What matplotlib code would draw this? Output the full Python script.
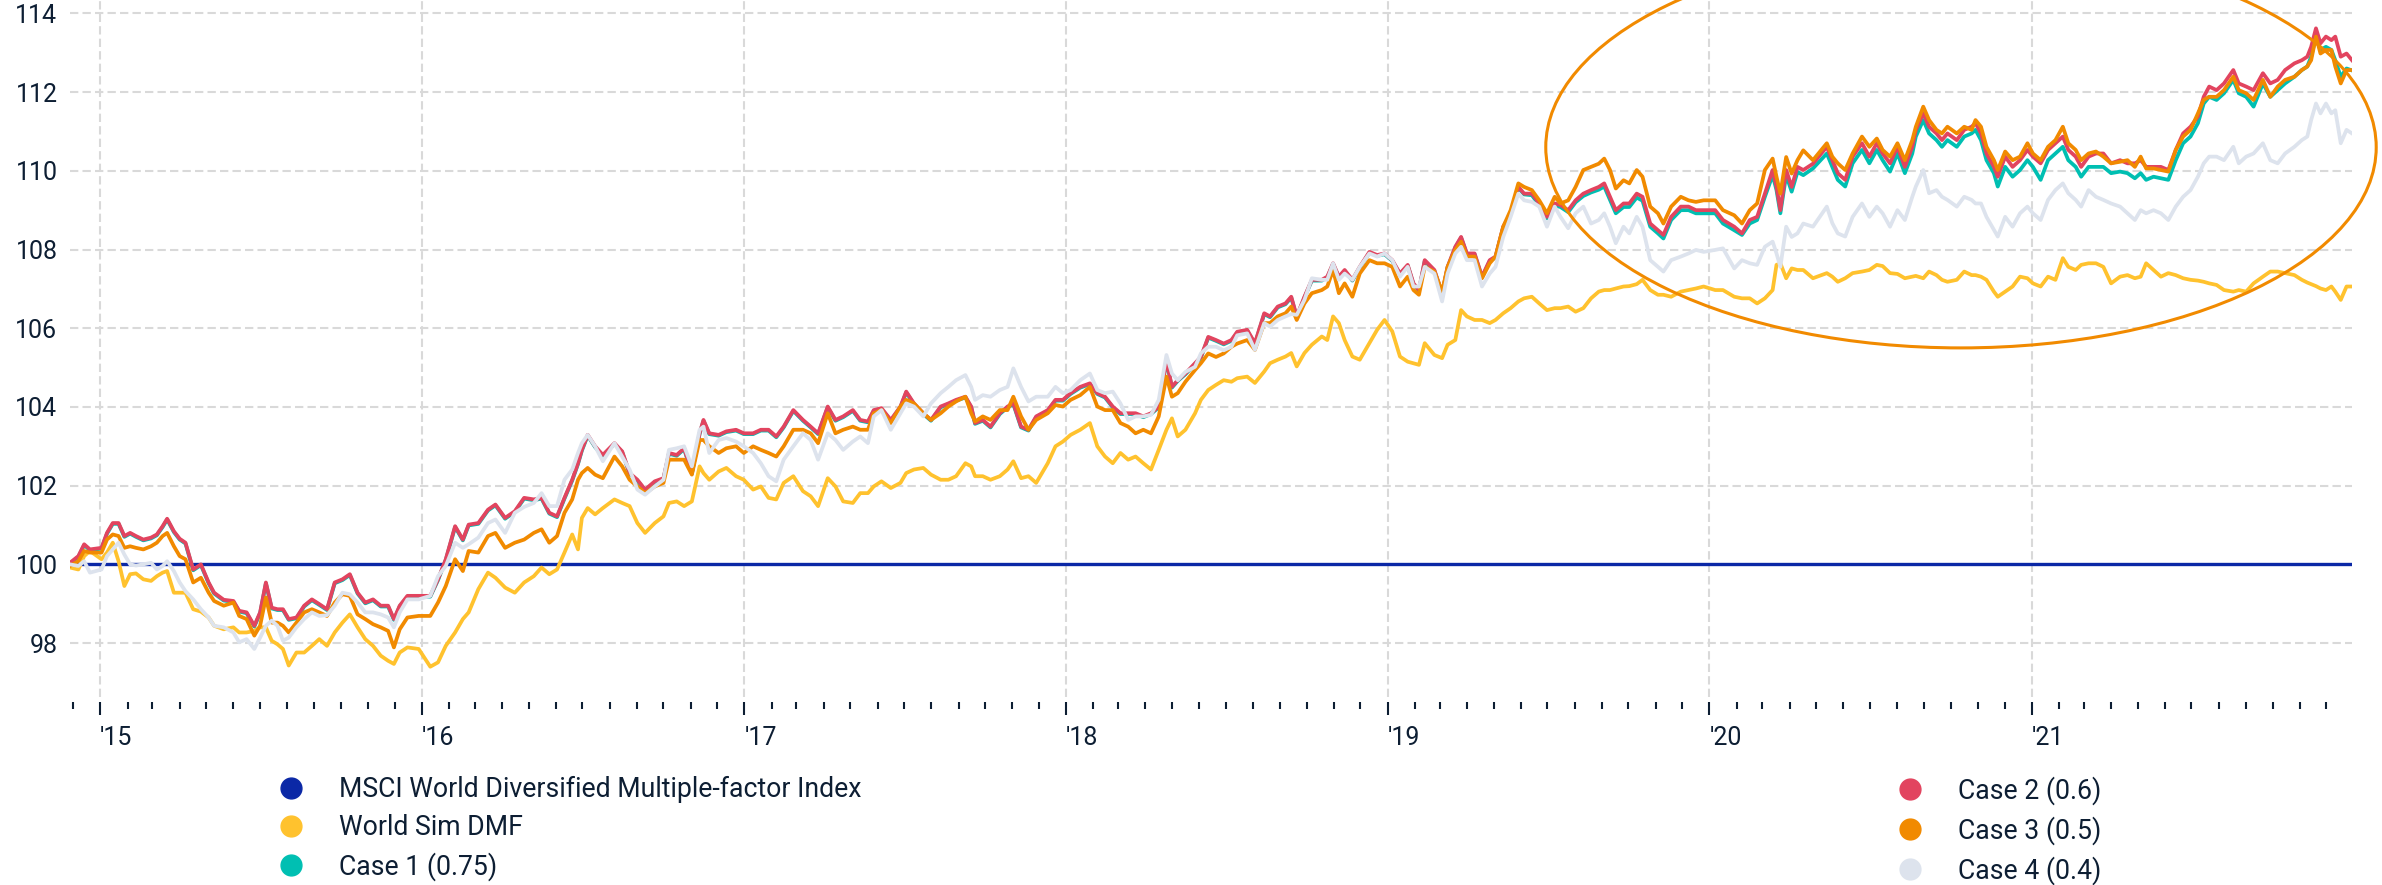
import numpy as np
import pandas as pd
import matplotlib
matplotlib.use("Agg")
import matplotlib.pyplot as plt
import matplotlib.dates as mdates
from matplotlib.patches import Ellipse
from matplotlib.lines import Line2D

plt.rcParams['font.family'] = ['Roboto', 'DejaVu Sans']

# ---------------- data (decimal years, index levels) ----------------
t_a = [2014.906,2014.932,2014.950,2014.968,2015.004,2015.021,2015.039,2015.057,2015.075,2015.093,
       2015.111,2015.134,2015.158,2015.176,2015.194,2015.208,2015.229,2015.247,2015.265,2015.289,
       2015.313,2015.337,2015.354,2015.384,2015.414,2015.432,2015.455,2015.479,2015.497,2015.515,
       2015.533,2015.551,2015.568,2015.586,2015.610,2015.634,2015.658,2015.681,2015.705,2015.729,
       2015.753,2015.776,2015.800,2015.824,2015.848,2015.872,2015.895,2015.913,2015.931,2015.955,
       2015.990,2016.026,2016.050,2016.074,2016.103,2016.127,2016.145,2016.175,2016.205,2016.228,
       2016.258,2016.288,2016.317,2016.347,2016.371,2016.395,2016.419,2016.442,2016.466,2016.484,
       2016.496,2016.514,2016.537,2016.561,2016.597,2016.621,2016.644,2016.668,2016.692,2016.722,
       2016.749]
t_b = [2016.766,2016.790,2016.813,2016.837,2016.861,2016.873,2016.891,2016.920,2016.944,2016.974,
       2016.998,2017.027,2017.051,2017.075,2017.099,2017.122,2017.152,2017.182,2017.206,2017.229,
       2017.259,2017.283,2017.307,2017.337,2017.360,2017.384,2017.402,2017.426,2017.455,2017.485,
       2017.503,2017.527,2017.556,2017.580,2017.610,2017.634,2017.658,2017.687,2017.705,2017.717,
       2017.741,2017.765,2017.794,2017.818,2017.836,2017.860,2017.883,2017.907,2017.943,2017.967,
       2017.990,2018.014,2018.044,2018.074,2018.097,2018.121,2018.145,2018.169,2018.193,2018.216,
       2018.240,2018.264,2018.288,2018.312,2018.329,2018.347,2018.371,2018.401,2018.419,2018.442,
       2018.466,2018.490,2018.514,2018.532]
t_c = [2018.563,2018.587,2018.616,2018.634,2018.658,2018.682,2018.700,2018.717,2018.741,2018.764,
       2018.795,2018.812,2018.830,2018.848,2018.866,2018.890,2018.913,2018.943,2018.967,2018.990,
       2019.014,2019.038,2019.062,2019.080,2019.097,2019.115,2019.145,2019.169,2019.186,2019.210,
       2019.228,2019.246,2019.270,2019.293,2019.317,2019.335,2019.359,2019.382,2019.406,2019.424,
       2019.448,2019.471,2019.495,2019.519,2019.537,2019.561,2019.584,2019.608,2019.632,2019.656,
       2019.673,2019.691,2019.709,2019.733,2019.751,2019.774,2019.792,2019.816,2019.840,2019.857,
       2019.881,2019.911,2019.935,2019.958,2019.982,2020.018,2020.042,2020.077,2020.101,2020.125,
       2020.148,2020.172,2020.196,2020.208,2020.220,2020.238,2020.255,2020.273,2020.291,2020.321]
t_d = [2020.364,2020.381,2020.398,2020.421,2020.444,2020.473,2020.496,2020.519,2020.537,2020.560,
       2020.583,2020.606,2020.629,2020.640,2020.663,2020.681,2020.704,2020.721,2020.738,2020.767,
       2020.790,2020.813,2020.825,2020.842,2020.859,2020.882,2020.894,2020.917,2020.940,2020.963,
       2020.986,2021.003,2021.027,2021.050,2021.073,2021.096,2021.113,2021.136,2021.153,2021.176,
       2021.199,2021.222,2021.246,2021.274,2021.297,2021.320,2021.338,2021.355,2021.378,2021.401,
       2021.424,2021.447,2021.470,2021.493,2021.516,2021.534,2021.551,2021.574,2021.597,2021.626,
       2021.643,2021.666,2021.689,2021.718,2021.741,2021.764,2021.787,2021.816,2021.839,2021.856,
       2021.868,2021.883,2021.897,2021.914,2021.931,2021.943,2021.960,2021.978,2021.995]

# World Sim DMF
sim_a = [99.92,99.87,100.21,100.34,100.13,100.30,100.55,100.08,99.45,99.75,
         99.77,99.62,99.58,99.70,99.79,99.83,99.28,99.28,99.28,98.86,
         98.80,98.65,98.44,98.35,98.40,98.27,98.27,98.31,98.40,98.40,
         98.06,97.97,97.85,97.43,97.76,97.76,97.93,98.10,97.93,98.27,
         98.52,98.73,98.40,98.10,97.93,97.68,97.55,97.47,97.76,97.89,
         97.85,97.40,97.51,97.93,98.27,98.61,98.78,99.37,99.79,99.66,
         99.41,99.28,99.54,99.70,99.92,99.75,99.87,100.30,100.76,100.38,
         101.18,101.43,101.27,101.43,101.65,101.56,101.48,101.05,100.80,101.05,
         101.22]
sim_b = [101.56,101.60,101.48,101.60,102.49,102.32,102.15,102.36,102.45,102.24,
         102.15,101.90,101.98,101.69,101.65,102.07,102.24,101.86,101.73,101.48,
         102.19,101.98,101.60,101.56,101.81,101.81,101.98,102.11,101.94,102.07,
         102.32,102.41,102.45,102.28,102.15,102.15,102.24,102.57,102.49,102.24,
         102.24,102.15,102.24,102.41,102.62,102.19,102.24,102.07,102.57,103.00,
         103.12,103.29,103.42,103.59,103.00,102.74,102.57,102.83,102.66,102.74,
         102.57,102.41,102.91,103.42,103.71,103.25,103.42,103.84,104.18,104.43,
         104.56,104.68,104.64,104.73]
sim_c = [104.77,104.61,104.90,105.11,105.20,105.28,105.37,105.03,105.37,105.58,
         105.79,105.70,106.30,106.13,105.70,105.28,105.20,105.62,105.96,106.21,
         105.92,105.28,105.15,105.11,105.07,105.62,105.32,105.24,105.58,105.70,
         106.46,106.30,106.21,106.21,106.13,106.21,106.38,106.51,106.68,106.76,
         106.80,106.63,106.46,106.51,106.51,106.55,106.42,106.51,106.76,106.93,
         106.97,106.97,107.01,107.06,107.07,107.12,107.23,106.97,106.85,106.85,
         106.80,106.93,106.97,107.01,107.06,106.97,106.97,106.80,106.76,106.76,
         106.63,106.76,106.97,107.61,107.65,107.27,107.52,107.48,107.48,107.27]
sim_d = [107.40,107.31,107.18,107.27,107.40,107.44,107.48,107.61,107.58,107.40,
         107.38,107.27,107.31,107.33,107.27,107.44,107.35,107.23,107.18,107.23,
         107.44,107.35,107.35,107.31,107.23,106.93,106.80,106.93,107.06,107.31,
         107.27,107.14,107.06,107.31,107.23,107.78,107.56,107.48,107.61,107.65,
         107.65,107.56,107.14,107.31,107.35,107.27,107.31,107.65,107.48,107.31,
         107.40,107.35,107.27,107.23,107.21,107.18,107.14,107.10,106.97,106.93,
         106.97,106.93,107.14,107.31,107.44,107.44,107.40,107.35,107.23,107.16,
         107.12,107.07,107.01,106.97,107.06,106.93,106.72,107.06,107.06]

# Case 1 (0.75)
case1_a = [100.02,100.19,100.49,100.36,100.40,100.78,101.03,101.03,100.70,100.78,
           100.70,100.61,100.66,100.74,100.95,101.14,100.82,100.63,100.53,99.85,
           99.98,99.52,99.26,99.08,99.05,98.80,98.76,98.42,98.76,99.52,
           98.88,98.84,98.84,98.59,98.63,98.93,99.09,98.97,98.84,99.52,
           99.60,99.73,99.26,99.01,99.09,98.93,98.93,98.59,98.93,99.18,
           99.18,99.18,99.60,100.11,100.95,100.61,100.99,101.03,101.37,101.50,
           101.16,101.33,101.67,101.63,101.67,101.29,101.20,101.67,102.13,102.55,
           102.89,103.27,102.98,102.76,103.06,102.85,102.30,102.13,101.88,102.09,
           102.17]
case1_b = [102.81,102.76,102.93,102.30,103.31,103.65,103.31,103.27,103.36,103.40,
           103.31,103.31,103.40,103.40,103.23,103.48,103.90,103.65,103.48,103.31,
           103.99,103.65,103.74,103.90,103.65,103.61,103.90,103.95,103.65,103.99,
           104.37,104.07,103.82,103.65,103.99,104.07,104.16,104.24,103.99,103.57,
           103.65,103.48,103.82,103.99,104.07,103.48,103.40,103.74,103.90,104.16,
           104.16,104.33,104.49,104.58,104.33,104.24,103.99,103.82,103.82,103.82,
           103.74,103.82,103.99,105.17,104.49,104.66,104.83,105.09,105.25,105.76,
           105.68,105.59,105.68,105.89]
case1_c = [105.94,105.60,106.36,106.28,106.53,106.61,106.78,106.28,106.78,107.21,
           107.21,107.29,107.63,107.29,107.46,107.21,107.54,107.92,107.84,107.88,
           107.71,107.37,107.59,107.12,106.95,107.71,107.46,106.87,107.54,108.05,
           108.30,107.88,107.88,107.29,107.71,107.80,108.56,108.90,109.57,109.40,
           109.38,109.13,108.79,109.12,109.08,108.95,109.20,109.36,109.45,109.52,
           109.60,109.26,108.92,109.08,109.08,109.32,109.24,108.58,108.41,108.28,
           108.75,109.00,109.00,108.92,108.92,108.92,108.66,108.49,108.37,108.66,
           108.75,109.34,109.89,109.51,108.92,109.89,109.47,109.97,109.89,110.06]
case1_d = [110.44,110.10,109.77,109.60,110.19,110.53,110.19,110.53,110.27,109.98,
           110.44,109.94,110.44,110.87,111.29,110.95,110.78,110.61,110.78,110.61,
           110.87,110.95,111.04,110.78,110.27,109.94,109.60,110.10,109.85,110.02,
           110.27,110.10,109.77,110.27,110.44,110.61,110.27,110.10,109.85,110.10,
           110.10,110.10,109.94,109.98,109.94,109.81,109.94,109.77,109.85,109.81,
           109.77,110.27,110.70,110.87,111.21,111.71,111.88,111.80,111.97,112.31,
           111.97,111.88,111.63,112.22,111.88,112.05,112.22,112.39,112.56,112.65,
           112.90,113.41,113.07,113.15,113.07,112.81,112.39,112.60,112.55]

# Case 2 (0.6)
case2_a = [100.04,100.21,100.51,100.38,100.42,100.80,101.05,101.05,100.72,100.80,
           100.72,100.63,100.68,100.76,100.97,101.16,100.84,100.65,100.55,99.87,
           100.00,99.54,99.28,99.10,99.07,98.82,98.78,98.44,98.78,99.54,
           98.90,98.86,98.86,98.61,98.65,98.95,99.11,98.99,98.86,99.54,
           99.62,99.75,99.28,99.03,99.11,98.95,98.95,98.61,98.95,99.20,
           99.20,99.20,99.62,100.13,100.97,100.63,101.01,101.05,101.39,101.52,
           101.18,101.35,101.69,101.65,101.69,101.31,101.22,101.69,102.15,102.57,
           102.91,103.29,103.00,102.78,103.08,102.87,102.32,102.15,101.90,102.11,
           102.19]
case2_b = [102.83,102.78,102.95,102.32,103.33,103.67,103.33,103.29,103.38,103.42,
           103.33,103.33,103.42,103.42,103.25,103.50,103.92,103.67,103.50,103.33,
           104.01,103.67,103.76,103.92,103.67,103.63,103.92,103.97,103.67,104.01,
           104.39,104.09,103.84,103.67,104.01,104.09,104.18,104.26,104.01,103.59,
           103.67,103.50,103.84,104.01,104.09,103.50,103.42,103.76,103.92,104.18,
           104.18,104.35,104.51,104.60,104.35,104.26,104.01,103.84,103.84,103.84,
           103.76,103.84,104.01,105.19,104.51,104.68,104.85,105.11,105.27,105.78,
           105.70,105.61,105.70,105.91]
case2_c = [105.96,105.62,106.38,106.30,106.55,106.63,106.80,106.30,106.80,107.23,
           107.23,107.31,107.65,107.31,107.48,107.23,107.56,107.94,107.86,107.90,
           107.73,107.39,107.61,107.14,106.97,107.73,107.48,106.89,107.56,108.07,
           108.32,107.90,107.90,107.31,107.73,107.82,108.58,108.92,109.59,109.42,
           109.42,109.17,108.83,109.17,109.13,109.00,109.25,109.42,109.51,109.59,
           109.68,109.34,109.00,109.17,109.17,109.42,109.34,108.66,108.49,108.37,
           108.83,109.09,109.09,109.00,109.00,109.00,108.75,108.58,108.41,108.75,
           108.83,109.42,110.02,109.59,109.00,110.02,109.59,110.10,110.02,110.18]
case2_d = [110.61,110.27,109.94,109.77,110.36,110.70,110.36,110.70,110.44,110.19,
           110.61,110.10,110.61,111.04,111.46,111.12,110.95,110.78,110.95,110.78,
           111.04,111.12,111.21,110.95,110.44,110.10,109.85,110.36,110.10,110.27,
           110.53,110.36,110.19,110.53,110.70,110.87,110.53,110.36,110.10,110.36,
           110.44,110.44,110.19,110.27,110.19,110.19,110.27,110.10,110.10,110.10,
           110.02,110.53,110.95,111.12,111.38,111.88,112.14,112.05,112.22,112.56,
           112.22,112.14,112.05,112.48,112.22,112.31,112.56,112.73,112.81,112.90,
           113.15,113.62,113.24,113.41,113.32,113.41,112.90,112.98,112.81]

# Case 3 (0.5)
case3_a = [99.96,100.08,100.34,100.30,100.30,100.63,100.76,100.72,100.42,100.46,
           100.42,100.38,100.46,100.55,100.72,100.80,100.46,100.21,100.13,99.54,
           99.66,99.28,99.07,98.95,99.03,98.69,98.61,98.19,98.44,99.16,
           98.52,98.52,98.44,98.27,98.52,98.78,98.86,98.78,98.69,99.03,
           99.24,99.20,98.73,98.61,98.48,98.40,98.31,97.89,98.35,98.65,
           98.69,98.69,99.03,99.45,100.13,99.83,100.34,100.30,100.72,100.80,
           100.42,100.55,100.63,100.80,100.89,100.55,100.72,101.31,101.65,102.15,
           102.32,102.45,102.28,102.19,102.74,102.49,102.15,101.98,101.81,101.98,
           102.07]
case3_b = [102.66,102.66,102.66,102.28,103.16,103.16,103.00,102.83,102.95,103.00,
           102.83,103.00,102.91,102.83,102.74,103.00,103.42,103.42,103.33,103.08,
           103.84,103.33,103.42,103.50,103.42,103.42,103.84,103.92,103.59,104.01,
           104.18,104.09,103.84,103.67,103.84,104.01,104.14,104.26,103.84,103.63,
           103.76,103.67,103.92,103.92,104.26,103.76,103.42,103.67,103.84,104.05,
           104.01,104.18,104.30,104.51,104.01,103.92,103.92,103.59,103.50,103.33,
           103.42,103.33,103.76,104.77,104.26,104.35,104.64,104.94,105.11,105.36,
           105.27,105.36,105.53,105.61]
case3_c = [105.70,105.45,106.13,106.13,106.30,106.38,106.55,106.21,106.63,106.89,
           106.97,107.06,107.48,106.89,107.14,106.80,107.39,107.73,107.65,107.65,
           107.56,107.06,107.31,106.97,106.85,107.56,107.44,106.93,107.56,107.99,
           108.20,107.82,107.82,107.27,107.65,107.82,108.58,109.00,109.68,109.59,
           109.51,109.25,108.92,109.34,109.17,109.25,109.59,110.02,110.10,110.18,
           110.31,110.02,109.55,109.76,109.68,110.02,109.85,109.09,108.92,108.66,
           109.09,109.34,109.25,109.21,109.25,109.25,109.00,108.87,108.66,109.00,
           109.17,110.02,110.31,109.85,109.42,110.35,109.93,110.27,110.52,110.27]
case3_d = [110.70,110.36,110.19,110.02,110.44,110.87,110.61,110.82,110.53,110.36,
           110.70,110.27,110.78,111.12,111.63,111.29,111.04,110.95,111.12,110.95,
           111.12,111.04,111.29,111.12,110.61,110.27,110.02,110.49,110.27,110.36,
           110.70,110.44,110.27,110.61,110.78,111.12,110.70,110.53,110.27,110.44,
           110.49,110.36,110.19,110.23,110.27,110.10,110.36,110.06,110.06,110.02,
           109.98,110.53,110.87,111.04,111.46,111.80,111.88,111.88,112.05,112.39,
           112.05,111.97,111.80,112.31,111.88,112.14,112.31,112.39,112.56,112.65,
           112.81,113.41,112.98,113.07,113.07,112.65,112.22,112.56,112.56]

# Case 4 (0.4)
case4_a = [100.00,99.96,100.08,99.79,99.87,100.21,100.38,100.55,100.25,100.00,
           99.97,100.00,100.04,99.87,99.96,100.08,99.83,99.54,99.32,99.11,
           98.86,98.65,98.44,98.40,98.27,98.02,98.10,97.85,98.14,98.44,
           98.57,98.44,98.06,98.14,98.40,98.61,98.78,98.69,98.71,98.95,
           99.28,99.24,99.03,98.78,98.78,98.73,98.65,98.40,98.78,99.11,
           99.11,99.20,99.70,99.96,100.55,100.42,100.51,100.68,101.05,101.14,
           100.80,101.31,101.46,101.56,101.81,101.48,101.48,102.15,102.41,102.83,
           103.08,103.29,103.00,102.62,103.08,102.74,102.41,101.90,101.77,101.98,
           102.15]
case4_b = [102.91,102.95,103.00,102.49,103.42,103.50,102.83,103.16,103.21,103.12,
           103.00,102.83,102.57,102.24,102.11,102.66,103.00,103.33,103.16,102.66,
           103.33,103.16,102.91,103.12,103.25,103.08,103.76,103.92,103.42,103.84,
           104.09,104.01,103.76,104.09,104.35,104.51,104.68,104.81,104.51,104.18,
           104.30,104.26,104.43,104.51,104.98,104.51,104.14,104.26,104.26,104.51,
           104.35,104.43,104.68,104.85,104.43,104.35,104.39,104.09,103.67,103.76,
           103.76,103.80,104.18,105.32,104.85,104.68,104.89,105.02,105.36,105.53,
           105.53,105.44,105.53,105.82]
case4_c = [105.87,105.45,106.13,106.04,106.21,106.30,106.36,106.34,106.72,107.27,
           107.23,107.23,107.65,107.23,107.39,107.23,107.56,107.90,107.82,107.90,
           107.73,107.31,107.56,107.06,107.06,107.56,107.39,106.68,107.39,107.90,
           108.07,107.73,107.73,107.06,107.39,107.56,108.32,108.83,109.42,109.25,
           109.21,109.09,108.58,109.09,108.83,108.54,108.92,109.09,108.66,108.75,
           108.92,108.58,108.16,108.58,108.41,108.83,108.58,107.73,107.56,107.44,
           107.73,107.82,107.90,107.99,107.94,107.99,108.03,107.52,107.73,107.65,
           107.61,108.07,108.20,107.90,107.56,108.58,108.32,108.41,108.66,108.58]
case4_d = [109.09,108.67,108.41,108.33,108.83,109.17,108.83,109.09,108.92,108.58,
           109.00,108.75,109.34,109.60,110.02,109.43,109.51,109.34,109.26,109.09,
           109.34,109.26,109.17,109.17,108.83,108.50,108.33,108.83,108.58,108.92,
           109.09,108.92,108.75,109.26,109.51,109.68,109.43,109.26,109.09,109.51,
           109.34,109.26,109.17,109.09,108.92,108.75,109.00,108.92,109.00,108.92,
           108.75,109.09,109.34,109.51,109.85,110.19,110.36,110.36,110.27,110.61,
           110.19,110.36,110.44,110.70,110.27,110.19,110.44,110.61,110.78,110.87,
           111.29,111.71,111.46,111.71,111.46,111.54,110.70,111.04,110.95]

# MSCI World Diversified Multiple-factor Index (the base, constant at 100)
msci_t = [2014.906, 2021.995]
msci_v = [100.0, 100.0]

series_names = ["MSCI World Diversified Multiple-factor Index", "World Sim DMF",
                "Case 1 (0.75)", "Case 2 (0.6)", "Case 3 (0.5)", "Case 4 (0.4)"]
series_colors = ["#0b28a6", "#ffc22e", "#00bfb2", "#e2445f", "#f18a00", "#dde3ed"]
y_ticks = [98, 100, 102, 104, 106, 108, 110, 112, 114]
year_ticks = [2015, 2016, 2017, 2018, 2019, 2020, 2021]
year_labels = ["'15", "'16", "'17", "'18", "'19", "'20", "'21"]

# ellipse highlight (center in decimal year / index level, size in years / index points)
ell_center = (2020.78, 110.6)
ell_size = (2.58, 10.2)


def to_date(t):
    y = int(np.floor(t))
    start = pd.Timestamp(y, 1, 1)
    days = (pd.Timestamp(y + 1, 1, 1) - start).days
    return start + pd.Timedelta(days=(t - y) * days)


t_all = t_a + t_b + t_c + t_d
dates = [to_date(t) for t in t_all]
vals = {
    "sim": sim_a + sim_b + sim_c + sim_d,
    "c1": case1_a + case1_b + case1_c + case1_d,
    "c2": case2_a + case2_b + case2_c + case2_d,
    "c3": case3_a + case3_b + case3_c + case3_d,
    "c4": case4_a + case4_b + case4_c + case4_d,
}
for k, v in vals.items():
    assert len(v) == len(dates), (k, len(v), len(dates))

W, H = 2382, 885
fig = plt.figure(figsize=(W / 100, H / 100), dpi=100)
ax = fig.add_axes([70 / W, 1 - 697 / H, (2352 - 70) / W, 697 / H])

lw = 2.7
ax.plot([to_date(t) for t in msci_t], msci_v, color=series_colors[0], lw=2.4, zorder=2,
        solid_capstyle='butt')
ax.plot(dates, vals["sim"], color=series_colors[1], lw=lw, zorder=3, solid_joinstyle='round')
ax.plot(dates, vals["c1"], color=series_colors[2], lw=lw, zorder=4, solid_joinstyle='round')
ax.plot(dates, vals["c2"], color=series_colors[3], lw=lw, zorder=5, solid_joinstyle='round')
ax.plot(dates, vals["c3"], color=series_colors[4], lw=lw, zorder=6, solid_joinstyle='round')
ax.plot(dates, vals["c4"], color=series_colors[5], lw=lw, zorder=7, solid_joinstyle='round')

ax.set_xlim(dates[0], dates[-1])
ax.set_ylim(96.63, 114.34)

# ellipse
cx = mdates.date2num(to_date(ell_center[0]))
ell = Ellipse((cx, ell_center[1]), width=ell_size[0] * 365.25, height=ell_size[1],
              transform=ax.transData, fill=False, edgecolor="#f18a00", lw=2.2,
              clip_on=False, zorder=8)
ax.add_patch(ell)

# axes styling
for s in ax.spines.values():
    s.set_visible(False)
ax.spines['bottom'].set_position(('outward', 3.6))

navy = "#0d1e33"
ax.set_yticks(y_ticks)
ax.set_yticklabels([str(v) for v in y_ticks])
ax.tick_params(axis='y', length=0, pad=9, labelsize=18, labelcolor=navy)

ax.set_xticks([pd.Timestamp(y, 1, 1) for y in year_ticks])
ax.set_xticklabels(year_labels, ha='left')
ax.set_xticks(list(pd.date_range('2014-12-01', '2021-12-01', freq='MS')), minor=True)
ax.tick_params(axis='x', which='major', direction='out', length=9, width=1.5, color=navy,
               pad=8, labelsize=18, labelcolor=navy)
ax.tick_params(axis='x', which='minor', direction='out', length=5, width=1.5, color=navy)

grid_kw = dict(color="#d9d9d9", lw=1.5, linestyle=(0, (4, 2)))
ax.grid(True, axis='y', which='major', **grid_kw)
ax.grid(True, axis='x', which='major', **grid_kw)
ax.set_axisbelow(True)

# legend
def handle(c):
    return Line2D([], [], ls='none', marker='o', ms=15, mfc=c, mec=c)

leg_kw = dict(loc='upper left', frameon=False, fontsize=19.2, handlelength=1.0,
              handletextpad=1.30, labelspacing=0.42, borderpad=0, borderaxespad=0,
              labelcolor=navy)
fig.legend([handle(c) for c in series_colors[:3]], series_names[:3],
           bbox_to_anchor=(277.5 / W, 1 - 776 / H), **leg_kw)
fig.legend([handle(c) for c in series_colors[3:]], series_names[3:],
           bbox_to_anchor=(1896.5 / W, 1 - 776 / H), **leg_kw)

fig.savefig("out.png", dpi=100)
